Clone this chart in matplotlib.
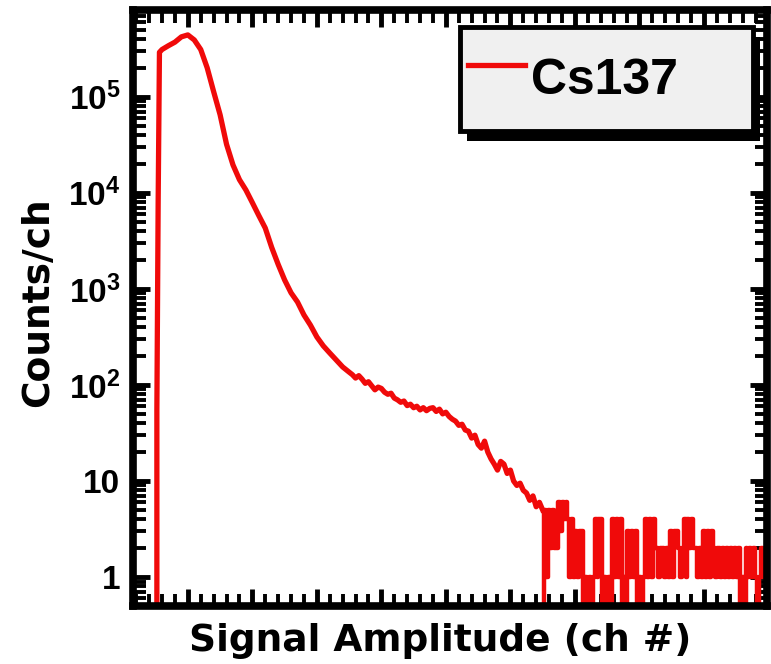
# Cs137 pulse height spectrum, log counts per channel

import matplotlib
matplotlib.use("Agg")
import matplotlib.pyplot as plt
import matplotlib.patheffects as pe
from matplotlib.ticker import MultipleLocator, LogLocator, NullFormatter

# --- data ---
# smooth part of the spectrum (channel, counts)
main_ch = [50, 52, 54, 56, 60, 70, 80, 90, 100, 110, 120, 130, 140, 150, 160,
           170, 180, 190, 200, 210, 220, 230, 240, 250, 260, 270, 280, 290,
           300, 310, 320, 330, 340,
           350, 355, 360, 365, 370, 375, 380, 385, 390, 395, 400, 405, 410,
           415, 420, 425, 430, 435, 440, 445, 450, 455, 460, 465, 470, 475,
           480, 485, 490, 495, 500, 505, 510, 515, 520, 525, 530, 535, 540,
           545, 550, 555, 560, 565, 570, 575, 580, 585, 590, 595, 600, 605,
           610, 615, 620, 625, 630, 635, 640, 645, 650]
main_counts = [0, 55, 8000, 2.9e5, 3.1e5, 3.4e5, 3.7e5, 4.2e5, 4.4e5, 3.9e5,
               3.1e5, 2.0e5, 1.13e5, 6.5e4, 3.2e4, 1.95e4, 1.37e4, 1.07e4,
               7.9e3, 5.8e3, 4.3e3, 2.7e3, 1.8e3, 1.24e3, 910, 730, 535, 420,
               316, 255, 215, 182, 154,
               136, 128, 118, 125, 115, 104, 108, 98, 89, 95, 92, 84, 80,
               82, 73, 70, 66, 68, 61, 63, 58, 60, 55, 58, 54, 57,
               58, 53, 56, 50, 52, 47, 44, 42, 38, 39, 34, 33, 28,
               30, 24, 22, 26, 20, 17, 15, 13, 16, 15, 12, 13, 10,
               9, 9.5, 8, 7.5, 6.3, 7, 5.4, 6, 5]

# noisy tail above the Compton edge (3-channel bins, integer counts)
tail_ch = list(range(651, 997, 3))
tail_counts = [0,
               5, 1, 5, 2, 5, 2,
               2, 6, 3, 6, 4, 6,
               4, 1, 4, 1,
               3, 1, 3, 3,
               0, 1, 0, 1, 0, 1,
               4, 1, 4, 4,
               0, 1, 0, 1, 0,
               4, 1, 4, 1, 4,
               0, 1, 0,
               3, 1, 3, 1, 3,
               0, 1, 0, 1,
               4, 1, 4, 1, 4, 2,
               2, 1, 2, 2, 1, 2, 1,
               3, 1, 3, 3,
               2, 1, 2,
               4, 1, 4, 2, 4, 2,
               2, 1, 2, 1,
               3, 1, 3, 1, 3,
               2, 1, 2,
               2, 1, 2, 1, 2, 1, 2, 1, 2, 1, 2,
               0, 1, 0,
               2, 1, 2, 1, 2, 1,
               0, 1,
               2, 1, 2]

ytick_vals = [1, 10, 100, 1e3, 1e4, 1e5]
ytick_labels = ["1", "10", r"$10^{2}$", r"$10^{3}$", r"$10^{4}$", r"$10^{5}$"]

# --- style ---
plt.rcParams["mathtext.fontset"] = "custom"
plt.rcParams["mathtext.rm"] = "Liberation Sans:bold"
plt.rcParams["mathtext.bf"] = "Liberation Sans:bold"
plt.rcParams["mathtext.it"] = "Liberation Sans:bold"
plt.rcParams["mathtext.default"] = "bf"

fig = plt.figure(figsize=(7.71, 6.64), dpi=100)
ax = fig.add_axes([0.1725, 0.0873, 0.8225, 0.8977])

red = "#f00a0a"
ax.plot(main_ch, main_counts, color=red, lw=3.8, label="Cs137")
ax.plot(tail_ch, tail_counts, color=red, lw=3.2, drawstyle="steps-mid")

ax.set_yscale("log", nonpositive="clip")
ax.set_xlim(15, 998)
ax.set_ylim(0.5, 8.0e5)

ax.xaxis.set_major_locator(MultipleLocator(100))
ax.xaxis.set_minor_locator(MultipleLocator(20))
ax.xaxis.set_major_formatter(NullFormatter())
ax.set_yticks(ytick_vals)
ax.set_yticklabels(ytick_labels)
ax.yaxis.set_minor_locator(LogLocator(base=10, subs=[2, 3, 4, 5, 6, 7, 8, 9], numticks=20))
ax.yaxis.set_minor_formatter(NullFormatter())

for s in ax.spines.values():
    s.set_linewidth(5.5)

ax.tick_params(which="both", direction="in", top=True, right=True)
ax.tick_params(which="major", length=12, width=3.5, pad=9)
ax.tick_params(which="minor", length=9, width=2.8)
for t in ax.get_yticklabels():
    t.set_fontsize(24)
    t.set_fontfamily("Liberation Sans")
    t.set_fontweight("bold")

ax.set_xlabel("Signal Amplitude (ch #)", fontsize=27, fontweight="bold",
              fontfamily="DejaVu Sans")
ax.xaxis.set_label_coords(0.484, -0.028)
ax.set_ylabel("Counts/ch", fontsize=27, fontweight="bold",
              fontfamily="DejaVu Sans")
ax.yaxis.set_label_coords(-0.121, 0.51)

leg = ax.legend(loc="upper left", bbox_to_anchor=(0.516, 0.795, 0.462, 0.176),
                mode="expand", borderaxespad=0, borderpad=0.15,
                handlelength=1.15, handleheight=2.35, handletextpad=0.12,
                fancybox=False, framealpha=1,
                prop={"family": "Liberation Sans", "weight": "bold", "size": 36})
frame = leg.get_frame()
frame.set_facecolor("#f0f0f0")
frame.set_edgecolor("black")
frame.set_linewidth(3.5)
frame.set_path_effects([pe.SimplePatchShadow(offset=(5, -7), shadow_rgbFace="black", alpha=1),
                        pe.Normal()])

fig.savefig("out.png", dpi=100)
